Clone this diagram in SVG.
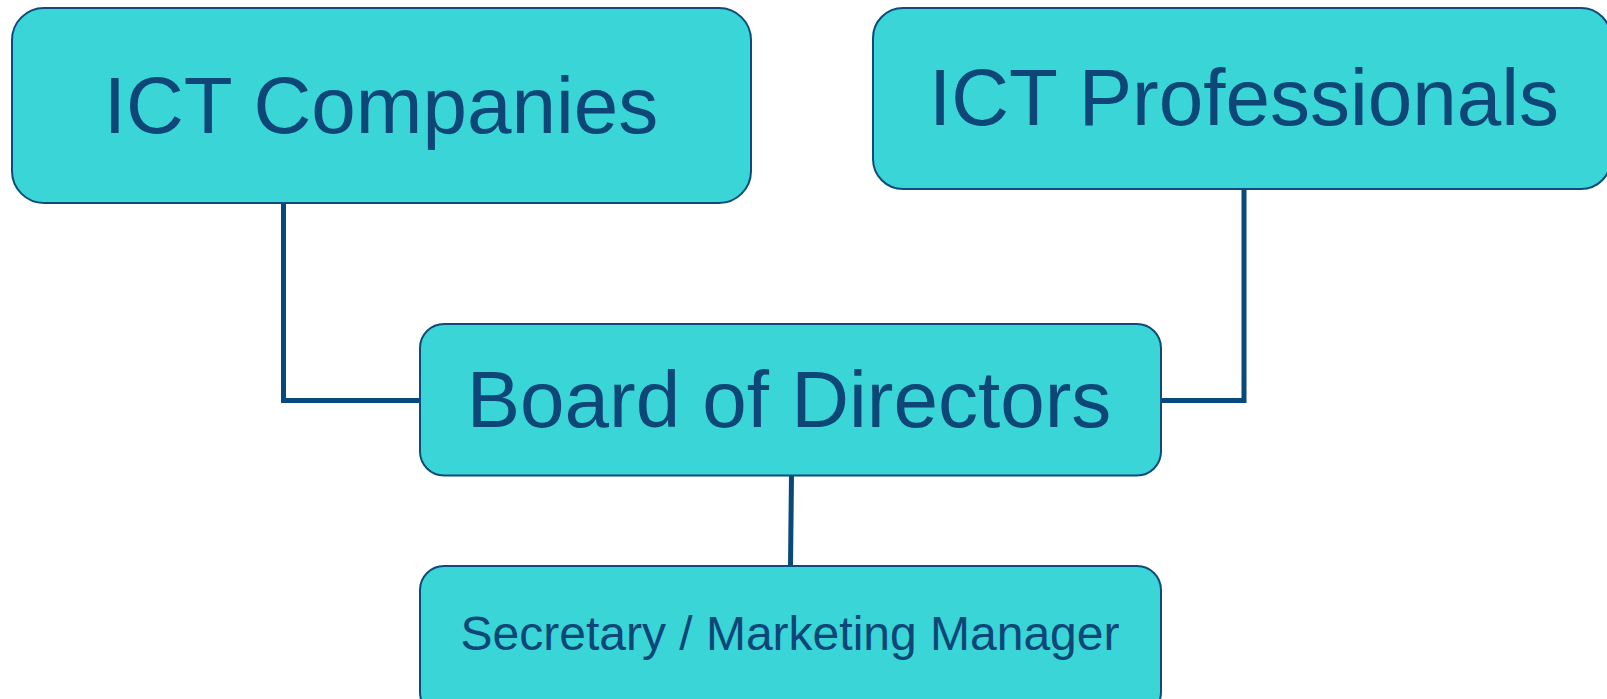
<svg xmlns="http://www.w3.org/2000/svg" width="1607" height="699" viewBox="0 0 1607 699">
<style>
.box{fill:#3AD5D6;stroke:#0E4B7C;stroke-width:2}
.lbl{font-family:"Liberation Sans",Arial,sans-serif;fill:#0D4677;text-anchor:middle}
.con{fill:none;stroke:#07487D;stroke-width:5}
</style>
<rect width="1607" height="699" fill="#ffffff"/>
<g id="connectors">
<polyline class="con" points="283.5,203 283.5,400.5 421,400.5"/>
<polyline class="con" points="1160,400.5 1244,400.5 1244,189"/>
<line class="con" x1="791.5" y1="475" x2="790.5" y2="566"/>
</g>
<g id="ict-companies">
<rect class="box" x="12" y="8" width="739" height="195" rx="32"/>
<text class="lbl" x="381" y="133" font-size="80">ICT Companies</text>
</g>
<g id="ict-professionals">
<rect class="box" x="873" y="8" width="738" height="181" rx="30"/>
<text class="lbl" x="1244" y="125" font-size="80">ICT Professionals</text>
</g>
<g id="board">
<rect class="box" x="420" y="324" width="741" height="151.5" rx="24"/>
<text class="lbl" x="789" y="427" font-size="80">Board of Directors</text>
</g>
<g id="secretary">
<rect class="box" x="420" y="566" width="741" height="150" rx="24"/>
<text class="lbl" x="790" y="650" font-size="48">Secretary / Marketing Manager</text>
</g>
</svg>
